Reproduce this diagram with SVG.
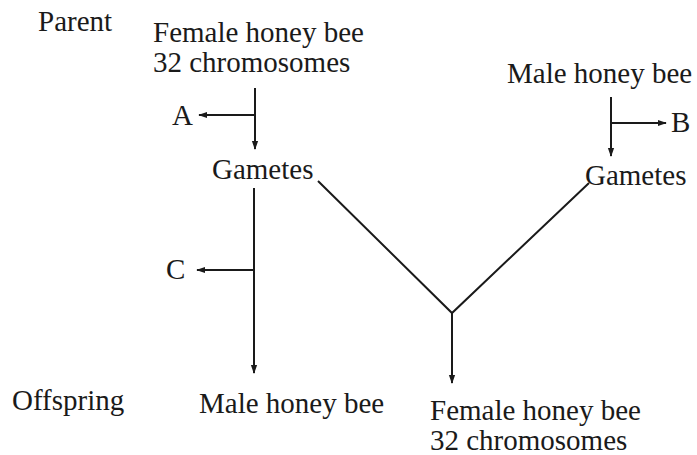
<svg xmlns="http://www.w3.org/2000/svg" width="697" height="455" viewBox="0 0 697 455">
<style>
text{font-family:"Liberation Serif","Times New Roman",serif;font-size:29px;fill:#1a1a1a}
.ln{stroke:#1a1a1a;stroke-width:2;fill:none}
</style>
<defs>
<marker id="ah" viewBox="0 0 10 10" refX="9" refY="5" markerWidth="9" markerHeight="9" orient="auto" markerUnits="userSpaceOnUse">
<path d="M0,1.5 L10,5 L0,8.5 Z" fill="#1a1a1a"/>
</marker>
</defs>
<rect width="697" height="455" fill="#fff"/>
<g id="labels">
<text x="38" y="31">Parent</text>
<text x="12" y="410">Offspring</text>
</g>
<g id="female-parent"><text x="153" y="42">Female honey bee</text><text x="153" y="72">32 chromosomes</text></g>
<g id="male-parent"><text x="507" y="83">Male honey bee</text></g>
<g id="gametes-left"><text x="212" y="179">Gametes</text></g>
<g id="gametes-right"><text x="585" y="185">Gametes</text></g>
<g id="label-a"><text x="172" y="125">A</text></g>
<g id="label-b"><text x="671" y="132">B</text></g>
<g id="label-c"><text x="166" y="279">C</text></g>
<g id="male-offspring"><text x="199" y="413">Male honey bee</text></g>
<g id="female-offspring"><text x="430" y="420">Female honey bee</text><text x="430" y="450">32 chromosomes</text></g>
<g id="connectors">
<line class="ln" x1="255" y1="88" x2="255" y2="149" marker-end="url(#ah)"/>
<line class="ln" x1="255" y1="115" x2="199" y2="115" marker-end="url(#ah)"/>
<line class="ln" x1="611" y1="97" x2="611" y2="156" marker-end="url(#ah)"/>
<line class="ln" x1="611" y1="123" x2="666" y2="123" marker-end="url(#ah)"/>
<line class="ln" x1="254" y1="188" x2="254" y2="373" marker-end="url(#ah)"/>
<line class="ln" x1="254" y1="270" x2="197" y2="270" marker-end="url(#ah)"/>
<polyline class="ln" points="318,181 452,313 589,183"/>
<line class="ln" x1="452" y1="313" x2="452" y2="383" marker-end="url(#ah)"/>
</g>
</svg>
